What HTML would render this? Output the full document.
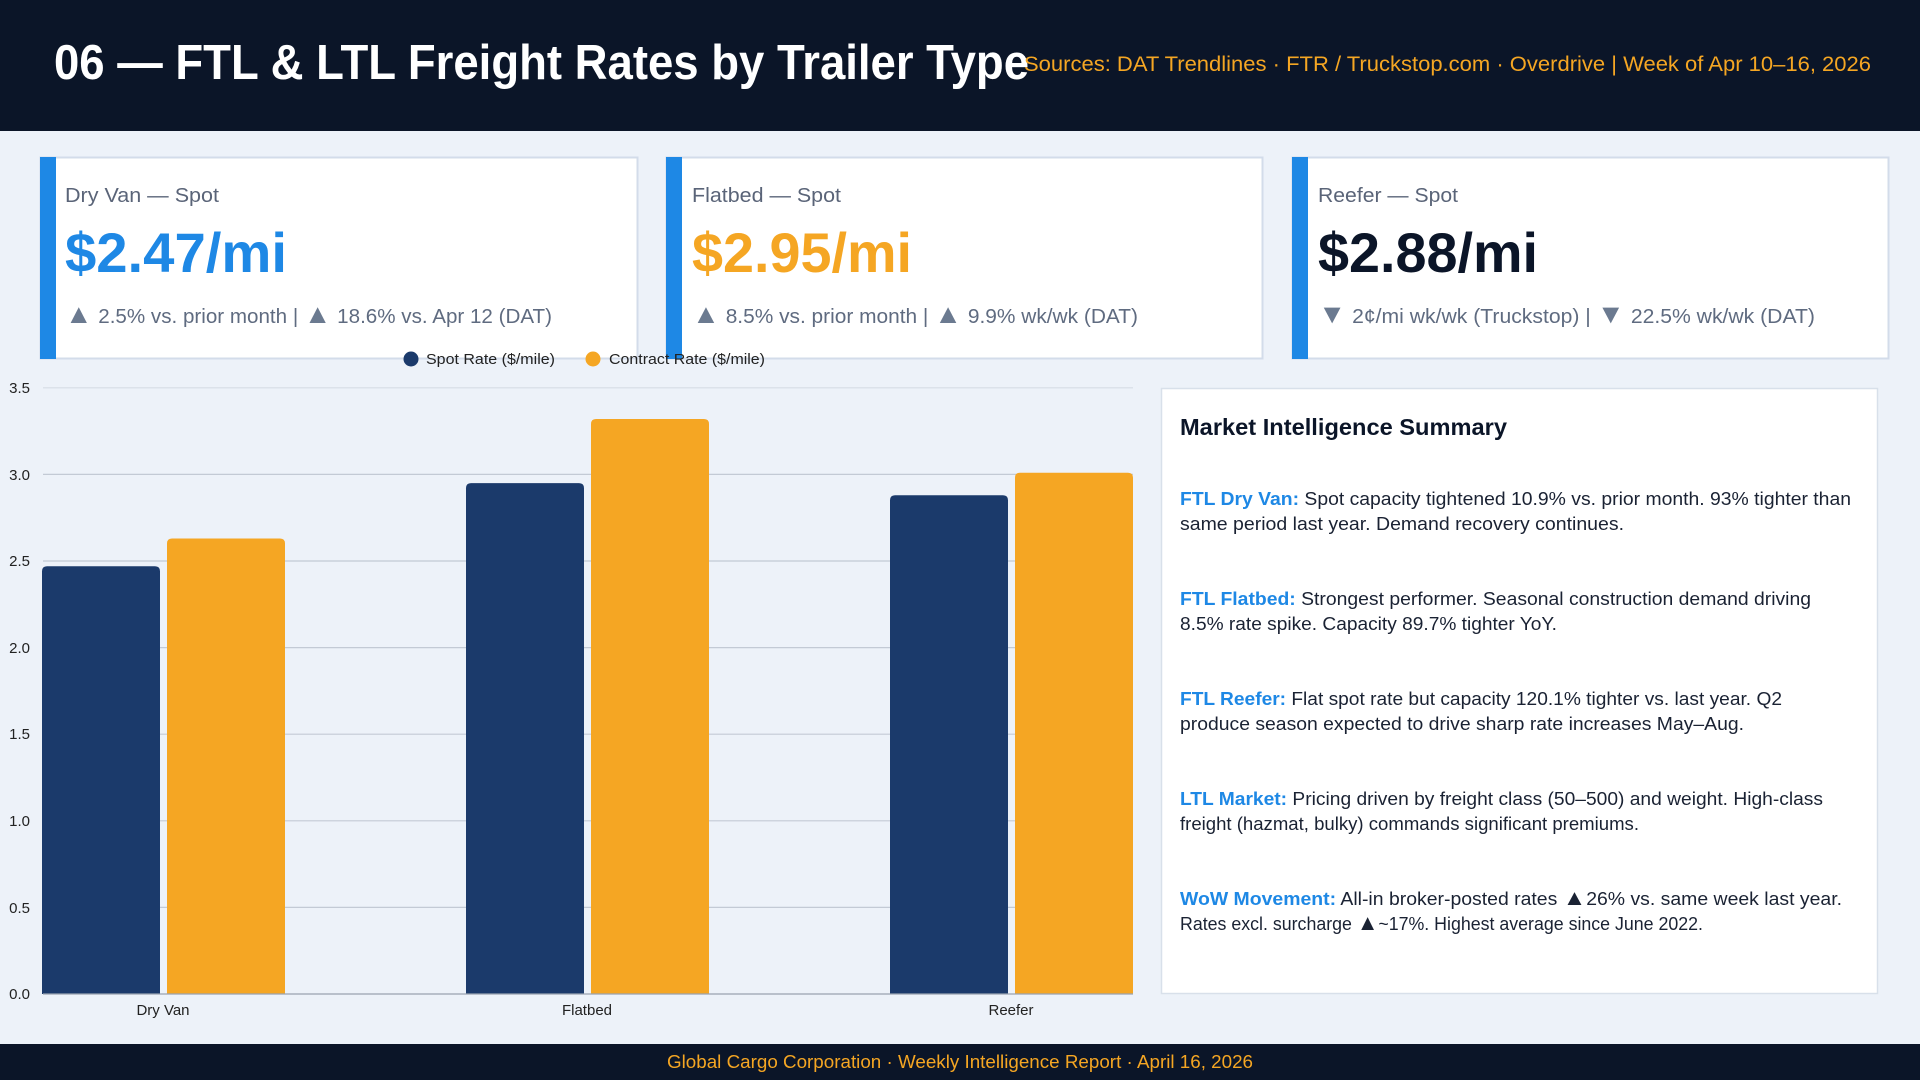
<!DOCTYPE html>
<html><head><meta charset="utf-8"><style>
html,body{margin:0;padding:0;background:#edf2f9;}
svg{display:block;}
text{font-family:"Liberation Sans",sans-serif;}
</style></head><body>
<svg width="1920" height="1080" viewBox="0 0 1920 1080" xmlns="http://www.w3.org/2000/svg">
<rect x="0" y="0" width="1920" height="1080" fill="#edf2f9"/>
<rect x="0" y="0" width="1920" height="131" fill="#0b1528"/>
<text x="54" y="79" font-size="49" font-weight="bold" fill="#ffffff" textLength="975" lengthAdjust="spacingAndGlyphs">06 — FTL &amp; LTL Freight Rates by Trailer Type</text>
<text x="1024" y="71" font-size="21" fill="#f5a623" textLength="847" lengthAdjust="spacingAndGlyphs">Sources: DAT Trendlines · FTR / Truckstop.com · Overdrive  |  Week of Apr 10–16, 2026</text>

<g>
<rect x="40.5" y="157.5" width="597" height="201" fill="#ffffff" stroke="#d3dcea" stroke-width="2"/>
<rect x="40" y="157" width="16" height="202" fill="#1e88e5"/>
<text x="65" y="202" font-size="20" fill="#5a6478" textLength="154" lengthAdjust="spacingAndGlyphs">Dry Van — Spot</text>
<text x="65" y="272" font-size="56" font-weight="bold" fill="#1e88e5" textLength="222" lengthAdjust="spacingAndGlyphs">$2.47/mi</text>
<text x="65" y="323" font-size="20" fill="#5f6b80" textLength="487" lengthAdjust="spacingAndGlyphs"><tspan fill="#6b7a90" font-size="27">▲</tspan> 2.5% vs. prior month  |  <tspan fill="#6b7a90" font-size="27">▲</tspan> 18.6% vs. Apr 12 (DAT)</text>

<rect x="666.5" y="157.5" width="596" height="201" fill="#ffffff" stroke="#d3dcea" stroke-width="2"/>
<rect x="666" y="157" width="16" height="202" fill="#1e88e5"/>
<text x="692" y="202" font-size="20" fill="#5a6478" textLength="149" lengthAdjust="spacingAndGlyphs">Flatbed — Spot</text>
<text x="692" y="272" font-size="56" font-weight="bold" fill="#f5a623" textLength="220" lengthAdjust="spacingAndGlyphs">$2.95/mi</text>
<text x="692" y="323" font-size="20" fill="#5f6b80" textLength="446" lengthAdjust="spacingAndGlyphs"><tspan fill="#6b7a90" font-size="27">▲</tspan> 8.5% vs. prior month  |  <tspan fill="#6b7a90" font-size="27">▲</tspan> 9.9% wk/wk (DAT)</text>

<rect x="1292.5" y="157.5" width="596" height="201" fill="#ffffff" stroke="#d3dcea" stroke-width="2"/>
<rect x="1292" y="157" width="16" height="202" fill="#1e88e5"/>
<text x="1318" y="202" font-size="20" fill="#5a6478" textLength="140" lengthAdjust="spacingAndGlyphs">Reefer — Spot</text>
<text x="1318" y="272" font-size="56" font-weight="bold" fill="#0b1528" textLength="220" lengthAdjust="spacingAndGlyphs">$2.88/mi</text>
<text x="1318" y="323" font-size="20" fill="#5f6b80" textLength="497" lengthAdjust="spacingAndGlyphs"><tspan fill="#6b7a90" font-size="27">▼</tspan> 2¢/mi wk/wk (Truckstop)  |  <tspan fill="#6b7a90" font-size="27">▼</tspan> 22.5% wk/wk (DAT)</text>
</g>

<circle cx="411" cy="359" r="7.5" fill="#1b3a6b"/>
<text x="426" y="364" font-size="15" fill="#222" textLength="129" lengthAdjust="spacingAndGlyphs">Spot Rate ($/mile)</text>
<circle cx="593" cy="359" r="7.5" fill="#f5a623"/>
<text x="609" y="364" font-size="15" fill="#222" textLength="156" lengthAdjust="spacingAndGlyphs">Contract Rate ($/mile)</text>

<g stroke="#c3cad5" stroke-width="1.2">
<line x1="43" y1="387.8" x2="1133" y2="387.8" stroke="#d6dce5"/>
<line x1="43" y1="474.4" x2="1133" y2="474.4"/>
<line x1="43" y1="561" x2="1133" y2="561"/>
<line x1="43" y1="647.6" x2="1133" y2="647.6"/>
<line x1="43" y1="734.2" x2="1133" y2="734.2"/>
<line x1="43" y1="820.8" x2="1133" y2="820.8"/>
<line x1="43" y1="907.4" x2="1133" y2="907.4"/>
</g>
<g font-size="15" fill="#222" text-anchor="end">
<text x="30" y="393">3.5</text>
<text x="30" y="480">3.0</text>
<text x="30" y="566">2.5</text>
<text x="30" y="653">2.0</text>
<text x="30" y="739">1.5</text>
<text x="30" y="826">1.0</text>
<text x="30" y="913">0.5</text>
<text x="30" y="999">0.0</text>
</g>

<g fill="#1b3a6b">
<path d="M42,994 V571.2 Q42,566.2 47,566.2 H155 Q160,566.2 160,571.2 V994 Z"/>
<path d="M466,994 V488.1 Q466,483.1 471,483.1 H579 Q584,483.1 584,488.1 V994 Z"/>
<path d="M890,994 V500.2 Q890,495.2 895,495.2 H1003 Q1008,495.2 1008,500.2 V994 Z"/>
</g>
<g fill="#f5a623">
<path d="M167,994 V543.5 Q167,538.5 172,538.5 H280 Q285,538.5 285,543.5 V994 Z"/>
<path d="M591,994 V424 Q591,419 596,419 H704 Q709,419 709,424 V994 Z"/>
<path d="M1015,994 V477.7 Q1015,472.7 1020,472.7 H1128 Q1133,472.7 1133,477.7 V994 Z"/>
</g>
<line x1="43" y1="994" x2="1133" y2="994" stroke="#9aa3b0" stroke-width="1.2"/>
<g font-size="15" fill="#222" text-anchor="middle">
<text x="163" y="1015">Dry Van</text>
<text x="587" y="1015">Flatbed</text>
<text x="1011" y="1015">Reefer</text>
</g>

<rect x="1161.5" y="388.5" width="716" height="605" fill="#ffffff" stroke="#d8e0ea" stroke-width="1.5"/>
<text x="1180" y="435" font-size="23" font-weight="bold" fill="#0b1528" textLength="327" lengthAdjust="spacingAndGlyphs">Market Intelligence Summary</text>
<g font-size="18" fill="#1a2233">
<text x="1180" y="505" textLength="671" lengthAdjust="spacingAndGlyphs"><tspan font-weight="bold" fill="#1e88e5">FTL Dry Van:</tspan> Spot capacity tightened 10.9% vs. prior month. 93% tighter than</text>
<text x="1180" y="530" textLength="444" lengthAdjust="spacingAndGlyphs">same period last year. Demand recovery continues.</text>
<text x="1180" y="605" textLength="631" lengthAdjust="spacingAndGlyphs"><tspan font-weight="bold" fill="#1e88e5">FTL Flatbed:</tspan> Strongest performer. Seasonal construction demand driving</text>
<text x="1180" y="630" textLength="377" lengthAdjust="spacingAndGlyphs">8.5% rate spike. Capacity 89.7% tighter YoY.</text>
<text x="1180" y="705" textLength="602" lengthAdjust="spacingAndGlyphs"><tspan font-weight="bold" fill="#1e88e5">FTL Reefer:</tspan> Flat spot rate but capacity 120.1% tighter vs. last year. Q2</text>
<text x="1180" y="730" textLength="564" lengthAdjust="spacingAndGlyphs">produce season expected to drive sharp rate increases May–Aug.</text>
<text x="1180" y="805" textLength="643" lengthAdjust="spacingAndGlyphs"><tspan font-weight="bold" fill="#1e88e5">LTL Market:</tspan> Pricing driven by freight class (50–500) and weight. High-class</text>
<text x="1180" y="830" textLength="459" lengthAdjust="spacingAndGlyphs">freight (hazmat, bulky) commands significant premiums.</text>
<text x="1180" y="905" textLength="662" lengthAdjust="spacingAndGlyphs"><tspan font-weight="bold" fill="#1e88e5">WoW Movement:</tspan> All-in broker-posted rates <tspan font-size="22">▲</tspan>26% vs. same week last year.</text>
<text x="1180" y="930" textLength="523" lengthAdjust="spacingAndGlyphs">Rates excl. surcharge <tspan font-size="22">▲</tspan>~17%. Highest average since June 2022.</text>
</g>

<rect x="0" y="1044" width="1920" height="36" fill="#0b1528"/>
<text x="667" y="1068" font-size="18" fill="#f5a623" textLength="586" lengthAdjust="spacingAndGlyphs">Global Cargo Corporation  ·  Weekly Intelligence Report  ·  April 16, 2026</text>
</svg>
</body></html>
